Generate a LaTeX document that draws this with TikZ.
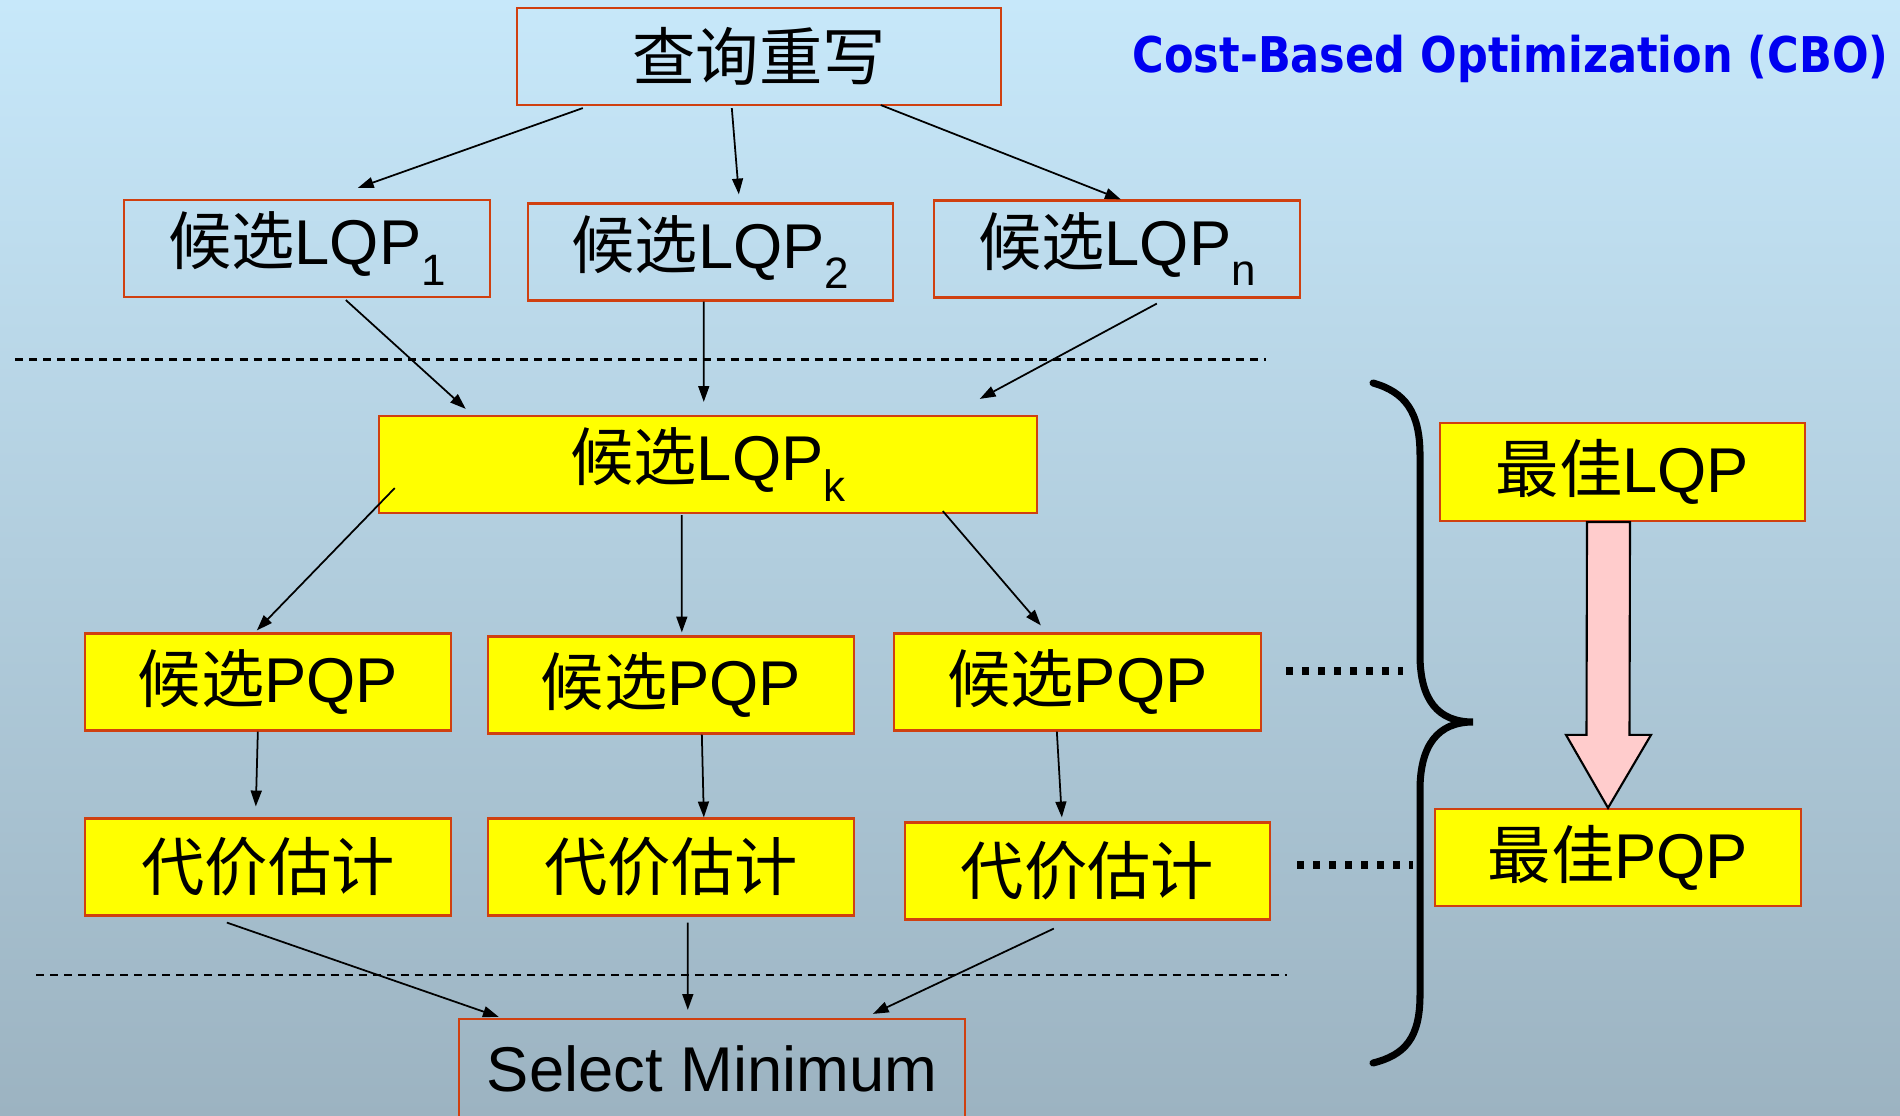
\documentclass[tikz,border=0pt]{standalone}
\usepackage{fontspec}
\setmainfont{Liberation Sans}
\newfontfamily\cjk{Noto Sans CJK SC}
\newfontfamily\titlefont{DejaVu Sans}
\usetikzlibrary{calc,arrows.meta}

\definecolor{bgtop}{RGB}{199,232,250}
\definecolor{bgbottom}{RGB}{156,179,193}
\definecolor{boxred}{RGB}{208,64,16}
\definecolor{boxyellow}{RGB}{255,255,0}
\definecolor{cboblue}{RGB}{0,0,240}
\definecolor{pinkfill}{RGB}{255,204,204}

\newcommand\zh[1]{{\cjk #1}}
\newcommand\lsub[1]{\raisebox{-0.33em}{\fontsize{12.5pt}{13pt}\selectfont #1}}

\tikzset{
  plainbox/.style={draw=boxred, line width=0.6pt, inner sep=0pt,
    minimum height=0.97cm, font=\fontsize{18pt}{20pt}\selectfont},
  fillbox/.style={plainbox, fill=boxyellow},
  flow/.style={draw=black, line width=0.5pt,
    -{Triangle[length=4.5pt,width=3.1pt]}},
  sepline/.style={line width=0.85pt, dash pattern=on 2.28pt off 1.71pt},
  ellipsisdots/.style={line width=2pt, dash pattern=on 2pt off 2.55pt},
  bracestroke/.style={line width=2pt, line cap=round},
  bigarrow/.style={draw=black, line width=0.6pt, fill=pinkfill, line join=miter}
}

\begin{document}
\begin{tikzpicture}[x=0.01cm, y=-0.01cm]
  % page background
  \path[use as bounding box] (0,0) rectangle (1900,1116);
  \clip (0,0) rectangle (1900,1116);
  \shade[top color=bgtop, bottom color=bgbottom] (0,0) rectangle (1900,1116);

  % title
  \node[anchor=base west, inner sep=0pt, text=cboblue,
        font=\titlefont\bfseries\fontsize{14pt}{16pt}\selectfont] (title)
        at (1132,73) {\scalebox{0.875}[1]{Cost-Based Optimization (CBO)}};

  % query rewrite and logical plans
  \node[plainbox, minimum width=4.84cm] (q)  at (759,56.5) {\zh{查询重写}};
  \node[plainbox, minimum width=3.66cm] (l1) at (307,248.5) {\zh{候选}LQP\lsub{1}};
  \node[plainbox, minimum width=3.65cm] (l2) at (710.5,252) {\zh{候选}LQP\lsub{2}};
  \node[plainbox, minimum width=3.66cm] (ln) at (1117,249) {\zh{候选}LQP\lsub{n}};

  \node[fillbox, minimum width=6.58cm] (lk) at (708,464.5) {\zh{候选}LQP\lsub{k}};

  % physical plans
  \node[fillbox, minimum width=3.66cm] (p1) at (268,682) {\zh{候选}PQP};
  \node[fillbox, minimum width=3.66cm] (p2) at (671,685) {\zh{候选}PQP};
  \node[fillbox, minimum width=3.67cm] (p3) at (1077.5,682) {\zh{候选}PQP};

  % cost estimation
  \node[fillbox, minimum width=3.66cm] (c1) at (268,867) {\zh{代价估计}};
  \node[fillbox, minimum width=3.66cm] (c2) at (671,867) {\zh{代价估计}};
  \node[fillbox, minimum width=3.65cm] (c3) at (1087.5,871) {\zh{代价估计}};

  \node[plainbox, minimum width=5.06cm, minimum height=0.99cm] (sm) at (712,1068.5) {Select Minimum};

  % best plans
  \node[fillbox, minimum width=3.65cm, minimum height=0.98cm] (bl) at (1622.5,472) {\zh{最佳}LQP};
  \node[fillbox, minimum width=3.66cm] (bp) at (1618,857.5) {\zh{最佳}PQP};

  % separators
  \draw[sepline] (15,360) -- (1266,360);
  \draw[sepline] (36,975) -- (1287,975);

  % connectors
  \draw[flow] ($(q.south west)+(67,2)$)   -- ($(l1.north west)+(235,-11)$);
  \draw[flow] ($(q.south west)+(216,2)$)  -- ($(l2.north west)+(212,-8)$);
  \draw[flow] ($(q.south west)+(365,-1)$) -- ($(ln.north west)+(188,0)$);

  \draw[flow] ($(l1.south west)+(223,2)$) -- ($(lk.north west)+(88,-6)$);
  \draw[flow] ($(l2.south west)+(177,0)$) -- ($(lk.north west)+(326,-13)$);
  \draw[flow] ($(ln.south west)+(224,5)$) -- ($(lk.north west)+(602,-16)$);

  \draw[flow] ($(lk.south west)+(17,-26)$) -- ($(p1.north west)+(173,-2)$);
  \draw[flow] ($(lk.south west)+(304,1)$)  -- ($(p2.north west)+(195,-3)$);
  \draw[flow] ($(lk.south west)+(565,-3)$) -- ($(p3.north west)+(148,-7)$);

  \draw[flow] ($(p1.south west)+(174,0)$) -- ($(c1.north west)+(172,-11)$);
  \draw[flow] ($(p2.south west)+(215,0)$) -- ($(c2.north west)+(217,0)$);
  \draw[flow] ($(p3.south west)+(164,0)$) -- ($(c3.north west)+(158,-4)$);

  \draw[flow] ($(c1.south west)+(143,6)$) -- ($(sm.north west)+(41,-1)$);
  \draw[flow] ($(c2.south west)+(201,6)$) -- ($(sm.north west)+(230,-8)$);
  \draw[flow] ($(c3.south west)+(150,8)$) -- ($(sm.north west)+(415,-4)$);

  % continuation dots
  \draw[ellipsisdots] (1286,671) -- (1403,671);
  \draw[ellipsisdots] (1297,865) -- (1413,865);

  % curly brace
  \draw[bracestroke] (1373,383) .. controls (1405,392) and (1420,412) .. (1420,455)
    -- (1420,655) .. controls (1420,700) and (1438,722) .. (1473,722)
    .. controls (1438,722) and (1420,745) .. (1420,790)
    -- (1420,995) .. controls (1420,1038) and (1405,1055) .. (1373,1063);

  % refinement arrow from best LQP to best PQP
  \coordinate (ast) at ($(bl.south)+(-14,0)$);
  \coordinate (atip) at ($(bp.north)+(-10,0)$);
  \draw[bigarrow] ($(ast)+(-21.5,0)$) -- ($(atip)+(-21.5,-73)$) -- ($(atip)+(-42,-73)$)
    -- (atip) -- ($(atip)+(43,-73)$) -- ($(atip)+(21.5,-73)$) -- ($(ast)+(21.5,0)$) -- cycle;
\end{tikzpicture}
\end{document}
